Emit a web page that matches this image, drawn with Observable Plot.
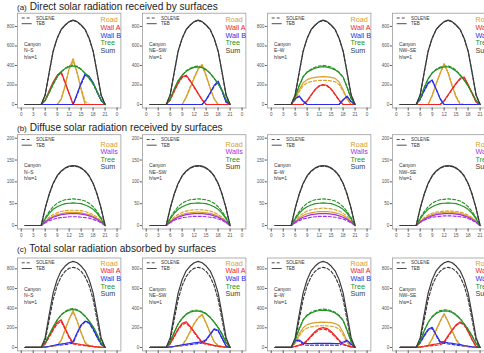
<!DOCTYPE html>
<html>
<head>
<meta charset="utf-8">
<script src="https://cdn.jsdelivr.net/npm/d3@7"></script>
<script src="https://cdn.jsdelivr.net/npm/@observablehq/plot@0.6"></script>
<style>
  html, body { margin: 0; padding: 0; background: #fff; }
  body { width: 484px; height: 353px; overflow: hidden; position: relative;
         font-family: "Liberation Sans", Arial, Helvetica, sans-serif; }
  .title { position: absolute; left: 17px; font-size: 10.1px; line-height: 1; color: #222; white-space: nowrap; }
  .title .tag { font-size: 8px; margin-right: 3px; }
  .panel { position: absolute; }
</style>
</head>
<body>
<script>
// Hour of day (local time) for every series value
const hours = [1,2,3,4,5,6,7,8,9,10,11,12,13,14,15,16,17,18,19,20,21];
const xTicks = [0,3,6,9,12,15,18,21,24];
const xTickLabels = ["0","3","6","9","12","15","18","21","0"];
const canyonNames = ["N–S","NE–SW","E–W","NW–SE"];
const aspectLabel = "h/w=1";
const modelNames = ["SOLENE","TEB"];

// ---------- (a) Direct solar radiation received by surfaces (W m-2) ----------
const dir_sum_teb = [0,0,0,0, 0,100,330,550,680,770,815,850,865,850,815,770,680,550,330,100,0];
const dir_sum_sol = [0,0,0,0, 0,95,325,545,678,768,813,848,862,848,813,768,678,545,325,95,0];

const dir_NS_road_teb  = [0,0,0,0, 0,0,0,0,0,50,190,370,470,330,150,0,0,0,0,0,0];
const dir_NS_road_sol  = [0,0,0,0, 0,0,0,0,0,60,200,360,445,320,170,30,0,0,0,0,0];
const dir_NS_wallA_teb = [0,0,0,0, 0,45,140,230,300,335,225,112,0,0,0,0,0,0,0,0,0];
const dir_NS_wallA_sol = [0,0,0,0, 0,40,130,220,290,325,220,110,0,0,0,0,0,0,0,0,0];
const dir_NS_wallB_teb = [0,0,0,0, 0,0,0,0,0,0,0,0,0,110,220,315,290,225,130,45,0];
const dir_NS_wallB_sol = [0,0,0,0, 0,0,0,0,0,0,0,0,0,100,205,300,280,215,125,40,0];
const dir_NS_tree_teb  = [0,0,0,0, 0,45,125,210,285,335,368,388,395,385,360,322,272,215,135,45,0];
const dir_NS_tree_sol  = [0,0,0,0, 0,40,120,205,280,335,372,395,405,392,362,318,265,208,128,40,0];

const dir_NESW_road_teb  = [0,0,0,0, 0,0,0,0,0,70,170,270,360,410,300,170,60,0,0,0,0];
const dir_NESW_road_sol  = [0,0,0,0, 0,0,0,0,0,80,180,280,370,400,290,165,60,0,0,0,0];
const dir_NESW_wallA_teb = [0,0,0,0, 0,50,140,225,285,300,245,180,115,50,0,0,0,0,0,0,0];
const dir_NESW_wallA_sol = [0,0,0,0, 0,45,130,215,275,290,240,175,110,45,0,0,0,0,0,0,0];
const dir_NESW_wallB_teb = [0,0,0,0, 0,0,0,0,0,0,0,0,0,0,50,120,195,240,140,25,0];
const dir_NESW_wallB_sol = [0,0,0,0, 0,0,0,0,0,0,0,0,0,0,45,112,185,230,135,22,0];
const dir_NESW_tree_teb  = [0,0,0,0, 0,55,160,245,300,340,365,380,385,378,355,320,270,215,145,50,0];
const dir_NESW_tree_sol  = [0,0,0,0, 0,50,150,240,300,345,372,388,395,385,360,322,268,210,140,45,0];

const dir_EW_road_teb  = [0,0,0,0, 0,55,150,222,255,270,278,283,285,283,278,268,230,150,60,0,0];
const dir_EW_road_sol  = [0,0,0,0, 0,45,130,195,222,235,242,247,248,247,242,233,205,135,52,0,0];
const dir_EW_wallA_teb = [0,0,0,0, 0,0,0,0,40,100,155,192,205,195,160,105,45,0,0,0,0];
const dir_EW_wallA_sol = [0,0,0,0, 0,0,0,0,35,95,150,188,200,190,155,100,40,0,0,0,0];
const dir_EW_wallB_teb = [0,0,0,0, 0,60,88,35,0,0,0,0,0,0,0,0,0,50,85,30,0];
const dir_EW_wallB_sol = [0,0,0,0, 0,55,82,30,0,0,0,0,0,0,0,0,0,45,80,25,0];
const dir_EW_tree_teb  = [0,0,0,0, 0,80,195,285,330,355,372,383,388,383,372,355,325,280,180,65,0];
const dir_EW_tree_sol  = [0,0,0,0, 0,75,190,285,335,362,382,395,400,395,382,362,330,280,175,60,0];

const dir_NWSE_road_teb  = [0,0,0,0, 0,0,0,0,90,210,320,420,320,190,75,0,0,0,0,0,0];
const dir_NWSE_road_sol  = [0,0,0,0, 0,0,0,0,95,215,320,410,330,200,85,10,0,0,0,0,0];
const dir_NWSE_wallA_teb = [0,0,0,0, 0,0,0,0,0,0,0,40,100,160,220,268,282,205,115,25,0];
const dir_NWSE_wallA_sol = [0,0,0,0, 0,0,0,0,0,0,0,35,95,155,212,260,275,200,110,25,0];
const dir_NWSE_wallB_teb = [0,0,0,0, 0,55,145,222,252,160,60,0,0,0,0,0,0,0,0,0,0];
const dir_NWSE_wallB_sol = [0,0,0,0, 0,50,138,215,245,155,58,0,0,0,0,0,0,0,0,0,0];
const dir_NWSE_tree_teb  = [0,0,0,0, 0,60,175,265,322,355,375,385,385,370,342,300,250,190,120,40,0];
const dir_NWSE_tree_sol  = [0,0,0,0, 0,55,170,262,325,362,383,395,395,380,350,305,252,190,118,38,0];

// ---------- (b) Diffuse solar radiation received by surfaces (W m-2) ----------
const dif_sum_teb = [0,0,0,0, 0,40,72,97,114,125,132,136,137,136,132,125,114,97,72,40,0];
const dif_sum_sol = [0,0,0,0, 0,39,71,96,113,124,131,135,136,135,131,124,113,96,71,39,0];

const dif_NS_road_teb  = [0,0,0,0, 0,9,16,21,25,27,29,30,30,30,29,27,25,21,16,9,0];
const dif_NS_road_sol  = [0,0,0,0, 0,10,19,25,29,32,34,35,35,35,34,32,29,25,19,10,0];
const dif_NS_walls_teb = [0,0,0,0, 0,8,14,19,22,25,26,27,27,27,26,25,22,19,14,8,0];
const dif_NS_walls_sol = [0,0,0,0, 0,6,11,14,17,18,19,20,20,20,19,18,17,14,11,6,0];
const dif_NS_tree_teb  = [0,0,0,0, 0,15,28,37,43,47,50,51,52,51,50,47,43,37,28,15,0];
const dif_NS_tree_sol  = [0,0,0,0, 0,18,32,43,51,56,59,60,61,60,59,56,51,43,32,18,0];

const dif_NESW_road_teb  = [0,0,0,0, 0,9,16,21,25,28,29,30,31,30,29,28,25,21,16,9,0];
const dif_NESW_road_sol  = [0,0,0,0, 0,10,19,25,30,33,35,36,36,36,35,33,30,25,19,10,0];
const dif_NESW_walls_teb = [0,0,0,0, 0,8,14,19,22,25,26,27,27,27,26,25,22,19,14,8,0];
const dif_NESW_walls_sol = [0,0,0,0, 0,6,12,15,18,19,20,21,21,21,20,19,18,15,12,6,0];
const dif_NESW_tree_teb  = [0,0,0,0, 0,15,28,37,43,47,50,51,52,51,50,47,43,37,28,15,0];
const dif_NESW_tree_sol  = [0,0,0,0, 0,18,32,43,51,56,59,60,61,60,59,56,51,43,32,18,0];

const dif_EW_road_teb  = [0,0,0,0, 0,9,17,23,27,29,31,32,32,32,31,29,27,23,17,9,0];
const dif_EW_road_sol  = [0,0,0,0, 0,11,21,28,33,36,38,39,40,39,38,36,33,28,21,11,0];
const dif_EW_walls_teb = [0,0,0,0, 0,8,14,19,22,25,26,27,27,27,26,25,22,19,14,8,0];
const dif_EW_walls_sol = [0,0,0,0, 0,6,11,15,17,19,20,21,21,21,20,19,17,15,11,6,0];
const dif_EW_tree_teb  = [0,0,0,0, 0,15,28,37,43,47,50,51,52,51,50,47,43,37,28,15,0];
const dif_EW_tree_sol  = [0,0,0,0, 0,18,32,43,51,56,59,60,61,60,59,56,51,43,32,18,0];

const dif_NWSE_road_teb  = [0,0,0,0, 0,9,16,21,25,28,29,30,31,30,29,28,25,21,16,9,0];
const dif_NWSE_road_sol  = [0,0,0,0, 0,10,18,24,28,31,32,33,33,33,32,31,28,24,18,10,0];
const dif_NWSE_walls_teb = [0,0,0,0, 0,8,14,19,22,25,26,27,27,27,26,25,22,19,14,8,0];
const dif_NWSE_walls_sol = [0,0,0,0, 0,7,12,16,19,20,21,22,22,22,21,20,19,16,12,7,0];
const dif_NWSE_tree_teb  = [0,0,0,0, 0,15,28,37,43,47,50,51,52,51,50,47,43,37,28,15,0];
const dif_NWSE_tree_sol  = [0,0,0,0, 0,18,32,43,51,56,59,60,61,60,59,56,51,43,32,18,0];

// ---------- (c) Total solar radiation absorbed by surfaces (W m-2) ----------
const tot_sum_teb = [0,0,0,0, 0,100,335,555,690,780,828,862,875,862,828,780,690,555,335,100,0];
const tot_sum_sol = [0,0,0,0, 0,70,280,490,630,720,775,805,815,805,775,720,630,490,280,70,0];

const tot_NS_road_teb  = [0,0,0,0, 0,5,10,15,22,70,180,290,375,270,150,45,18,12,8,3,0];
const tot_NS_road_sol  = [0,0,0,0, 0,4,9,14,20,75,185,290,360,265,155,55,18,11,7,3,0];
const tot_NS_wallA_teb = [0,0,0,0, 0,40,115,190,255,282,195,110,45,38,30,24,17,11,6,2,0];
const tot_NS_wallA_sol = [0,0,0,0, 0,35,105,175,240,265,185,100,35,28,22,17,12,8,4,1,0];
const tot_NS_wallB_teb = [0,0,0,0, 0,5,12,20,28,35,42,50,60,150,230,268,255,190,110,35,0];
const tot_NS_wallB_sol = [0,0,0,0, 0,3,8,14,20,25,30,36,45,140,220,260,248,182,102,30,0];
const tot_NS_tree_teb  = [0,0,0,0, 0,50,130,210,280,330,362,380,387,378,355,318,270,212,135,48,0];
const tot_NS_tree_sol  = [0,0,0,0, 0,45,125,205,278,332,368,388,395,385,358,318,265,205,128,42,0];

const tot_NESW_road_teb  = [0,0,0,0, 0,5,10,15,22,80,160,240,300,338,250,150,60,20,10,3,0];
const tot_NESW_road_sol  = [0,0,0,0, 0,4,9,14,20,85,165,245,305,330,245,145,60,18,9,3,0];
const tot_NESW_wallA_teb = [0,0,0,0, 0,40,115,190,245,262,215,160,105,55,42,32,22,14,7,2,0];
const tot_NESW_wallA_sol = [0,0,0,0, 0,35,105,178,232,248,205,150,95,45,33,25,17,10,5,1,0];
const tot_NESW_wallB_teb = [0,0,0,0, 0,5,12,20,27,33,40,46,52,58,80,135,190,175,95,15,0];
const tot_NESW_wallB_sol = [0,0,0,0, 0,3,8,14,19,24,29,34,39,45,72,128,182,168,90,13,0];
const tot_NESW_tree_teb  = [0,0,0,0, 0,55,155,240,295,335,358,370,370,362,340,305,258,205,138,48,0];
const tot_NESW_tree_sol  = [0,0,0,0, 0,52,150,238,298,340,366,378,378,368,345,308,258,202,134,45,0];

const tot_EW_road_teb  = [0,0,0,0, 0,50,135,200,232,245,252,256,258,256,252,243,222,155,65,5,0];
const tot_EW_road_sol  = [0,0,0,0, 0,40,115,172,198,210,216,220,222,220,216,208,188,128,52,3,0];
const tot_EW_wallA_teb = [0,0,0,0, 0,12,25,38,75,120,162,192,202,192,162,120,75,35,20,8,0];
const tot_EW_wallA_sol = [0,0,0,0, 0,8,18,28,65,108,150,178,188,178,150,108,65,27,14,5,0];
const tot_EW_wallB_teb = [0,0,0,0, 0,70,75,45,40,40,41,42,42,42,41,40,40,55,72,35,0];
const tot_EW_wallB_sol = [0,0,0,0, 0,60,68,30,22,22,23,23,23,23,23,22,22,45,65,28,0];
const tot_EW_tree_teb  = [0,0,0,0, 0,78,190,280,325,350,366,376,380,376,366,350,320,275,175,62,0];
const tot_EW_tree_sol  = [0,0,0,0, 0,75,188,282,332,358,375,386,390,386,375,358,326,276,172,58,0];

const tot_NWSE_road_teb  = [0,0,0,0, 0,5,10,20,90,180,270,345,260,165,75,22,15,10,6,2,0];
const tot_NWSE_road_sol  = [0,0,0,0, 0,4,9,18,85,175,262,330,265,170,85,30,15,9,5,2,0];
const tot_NWSE_wallA_teb = [0,0,0,0, 0,5,12,20,28,35,42,60,120,180,230,258,235,165,80,10,0];
const tot_NWSE_wallA_sol = [0,0,0,0, 0,3,8,13,18,23,28,45,110,172,222,250,230,160,78,10,0];
const tot_NWSE_wallB_teb = [0,0,0,0, 0,50,125,185,205,130,60,55,48,42,35,28,20,13,7,2,0];
const tot_NWSE_wallB_sol = [0,0,0,0, 0,45,115,175,195,120,48,42,36,30,24,18,13,8,4,1,0];
const tot_NWSE_tree_teb  = [0,0,0,0, 0,60,170,255,310,345,365,372,370,355,328,290,240,185,118,40,0];
const tot_NWSE_tree_sol  = [0,0,0,0, 0,58,168,256,315,352,375,382,380,364,335,294,242,184,116,38,0];

// ---------- styling ----------
const FONT = "'Liberation Sans', Arial, Helvetica, sans-serif";
const colors = { Road: "#d9a02c", "Wall A": "#ee2424", "Wall B": "#2a2ae8", Walls: "#a42ee8", Tree: "#249324", Sum: "#3a3a3a" };

function s(name, sol, teb) { return { name, SOLENE: sol, TEB: teb }; }

const rows = [
  {
    tag: "(a)", title: "Direct solar radiation received by surfaces",
    top: 0, titleTop: 2, marginTop: 12.7, marginBottom: 14.5,
    yDomain: [-36, 936], yTicks: [0, 200, 400, 600, 800], keyTop: 9.6,
    panels: [
      [s("Road", dir_NS_road_sol, dir_NS_road_teb), s("Wall A", dir_NS_wallA_sol, dir_NS_wallA_teb), s("Wall B", dir_NS_wallB_sol, dir_NS_wallB_teb), s("Tree", dir_NS_tree_sol, dir_NS_tree_teb), s("Sum", dir_sum_sol, dir_sum_teb)],
      [s("Road", dir_NESW_road_sol, dir_NESW_road_teb), s("Wall A", dir_NESW_wallA_sol, dir_NESW_wallA_teb), s("Wall B", dir_NESW_wallB_sol, dir_NESW_wallB_teb), s("Tree", dir_NESW_tree_sol, dir_NESW_tree_teb), s("Sum", dir_sum_sol, dir_sum_teb)],
      [s("Road", dir_EW_road_sol, dir_EW_road_teb), s("Wall A", dir_EW_wallA_sol, dir_EW_wallA_teb), s("Wall B", dir_EW_wallB_sol, dir_EW_wallB_teb), s("Tree", dir_EW_tree_sol, dir_EW_tree_teb), s("Sum", dir_sum_sol, dir_sum_teb)],
      [s("Road", dir_NWSE_road_sol, dir_NWSE_road_teb), s("Wall A", dir_NWSE_wallA_sol, dir_NWSE_wallA_teb), s("Wall B", dir_NWSE_wallB_sol, dir_NWSE_wallB_teb), s("Tree", dir_NWSE_tree_sol, dir_NWSE_tree_teb), s("Sum", dir_sum_sol, dir_sum_teb)]
    ]
  },
  {
    tag: "(b)", title: "Diffuse solar radiation received by surfaces",
    top: 122, titleTop: 123, marginTop: 12.2, marginBottom: 15.5,
    yDomain: [-8, 208], yTicks: [0, 50, 100, 150, 200], keyTop: 12.3,
    panels: [
      [s("Road", dif_NS_road_sol, dif_NS_road_teb), s("Walls", dif_NS_walls_sol, dif_NS_walls_teb), s("Tree", dif_NS_tree_sol, dif_NS_tree_teb), s("Sum", dif_sum_sol, dif_sum_teb)],
      [s("Road", dif_NESW_road_sol, dif_NESW_road_teb), s("Walls", dif_NESW_walls_sol, dif_NESW_walls_teb), s("Tree", dif_NESW_tree_sol, dif_NESW_tree_teb), s("Sum", dif_sum_sol, dif_sum_teb)],
      [s("Road", dif_EW_road_sol, dif_EW_road_teb), s("Walls", dif_EW_walls_sol, dif_EW_walls_teb), s("Tree", dif_EW_tree_sol, dif_EW_tree_teb), s("Sum", dif_sum_sol, dif_sum_teb)],
      [s("Road", dif_NWSE_road_sol, dif_NWSE_road_teb), s("Walls", dif_NWSE_walls_sol, dif_NWSE_walls_teb), s("Tree", dif_NWSE_tree_sol, dif_NWSE_tree_teb), s("Sum", dif_sum_sol, dif_sum_teb)]
    ]
  },
  {
    tag: "(c)", title: "Total solar radiation absorbed by surfaces",
    top: 244, titleTop: 244, marginTop: 13.5, marginBottom: 15.6,
    yDomain: [-35, 910], yTicks: [0, 200, 400, 600, 800], keyTop: 8.2,
    panels: [
      [s("Road", tot_NS_road_sol, tot_NS_road_teb), s("Wall A", tot_NS_wallA_sol, tot_NS_wallA_teb), s("Wall B", tot_NS_wallB_sol, tot_NS_wallB_teb), s("Tree", tot_NS_tree_sol, tot_NS_tree_teb), s("Sum", tot_sum_sol, tot_sum_teb)],
      [s("Road", tot_NESW_road_sol, tot_NESW_road_teb), s("Wall A", tot_NESW_wallA_sol, tot_NESW_wallA_teb), s("Wall B", tot_NESW_wallB_sol, tot_NESW_wallB_teb), s("Tree", tot_NESW_tree_sol, tot_NESW_tree_teb), s("Sum", tot_sum_sol, tot_sum_teb)],
      [s("Road", tot_EW_road_sol, tot_EW_road_teb), s("Wall A", tot_EW_wallA_sol, tot_EW_wallA_teb), s("Wall B", tot_EW_wallB_sol, tot_EW_wallB_teb), s("Tree", tot_EW_tree_sol, tot_EW_tree_teb), s("Sum", tot_sum_sol, tot_sum_teb)],
      [s("Road", tot_NWSE_road_sol, tot_NWSE_road_teb), s("Wall A", tot_NWSE_wallA_sol, tot_NWSE_wallA_teb), s("Wall B", tot_NWSE_wallB_sol, tot_NWSE_wallB_teb), s("Tree", tot_NWSE_tree_sol, tot_NWSE_tree_teb), s("Sum", tot_sum_sol, tot_sum_teb)]
    ]
  }
];

const PANEL_W = 125, PANEL_H = 122, M_LEFT = 16.9, M_RIGHT = 4.6;

function drawPanel(row, series, canyon, col) {
  const marks = [Plot.frame({ stroke: "#9c9c9c", strokeWidth: 0.8 })];
  // dashed SOLENE curves underneath, solid TEB curves on top
  for (const model of modelNames) {
    for (const ser of series) {
      const table = hours.map((h, i) => ({ hour: h, value: ser[model][i] }));
      marks.push(Plot.line(table, {
        x: "hour", y: "value",
        stroke: colors[ser.name],
        strokeWidth: model === "TEB" ? 1.2 : 1.15,
        strokeDasharray: model === "SOLENE" ? "3,2" : null
      }));
    }
  }
  marks.push(Plot.axisX({
    ticks: xTicks, tickFormat: d => xTickLabels[xTicks.indexOf(d)],
    tickSize: 3, tickPadding: 2.2, fontSize: 4.6, color: "#555", label: null
  }));
  marks.push(Plot.axisY({
    ticks: row.yTicks, tickSize: 2, tickPadding: 1, fontSize: 4.6, color: "#555", label: null
  }));

  const svg = Plot.plot({
    width: PANEL_W, height: PANEL_H,
    marginLeft: M_LEFT, marginRight: M_RIGHT,
    marginTop: row.marginTop, marginBottom: row.marginBottom,
    x: { domain: [-0.96, 24.96] },
    y: { domain: row.yDomain },
    style: { fontFamily: FONT, background: "transparent", overflow: "visible" },
    marks
  });

  // in-panel keys: line styles (top left), canyon description, surface colours (top right)
  const fl = M_LEFT, ft = row.marginTop;
  const g = d3.select(svg).append("g")
    .attr("font-family", FONT).attr("text-anchor", "start");
  [["SOLENE", "3,2"], ["TEB", null]].forEach(([name, dash], k) => {
    const y = ft + 5.3 + k * 5.7;
    g.append("line").attr("x1", fl + 4.8).attr("x2", fl + 14.8).attr("y1", y).attr("y2", y)
      .attr("stroke", "#3a3a3a").attr("stroke-width", 0.9).attr("stroke-dasharray", dash);
    g.append("text").attr("x", fl + 19).attr("y", y).attr("dy", "0.35em")
      .attr("font-size", 4.6).attr("fill", "#333").text(name);
  });
  ["Canyon", canyon, aspectLabel].forEach((t, k) => {
    g.append("text").attr("x", fl + 7).attr("y", ft + 31.5 + k * 6.5).attr("dy", "0.35em")
      .attr("font-size", 4.9).attr("fill", "#333").text(t);
  });
  series.forEach((ser, k) => {
    g.append("text").attr("x", fl + 83.6).attr("y", ft + row.keyTop + k * 7.6)
      .attr("font-size", 7.2).attr("fill", colors[ser.name]).text(ser.name);
  });

  svg.classList.add("panel");
  svg.style.left = (col * PANEL_W) + "px";
  svg.style.top = row.top + "px";
  return svg;
}

for (const row of rows) {
  const t = document.createElement("div");
  t.className = "title";
  t.style.top = row.titleTop + "px";
  t.innerHTML = `<span class="tag">${row.tag}</span>${row.title}`;
  row.panels.forEach((series, col) => {
    document.body.appendChild(drawPanel(row, series, canyonNames[col], col));
  });
  document.body.appendChild(t);
}
</script>
</body>
</html>
